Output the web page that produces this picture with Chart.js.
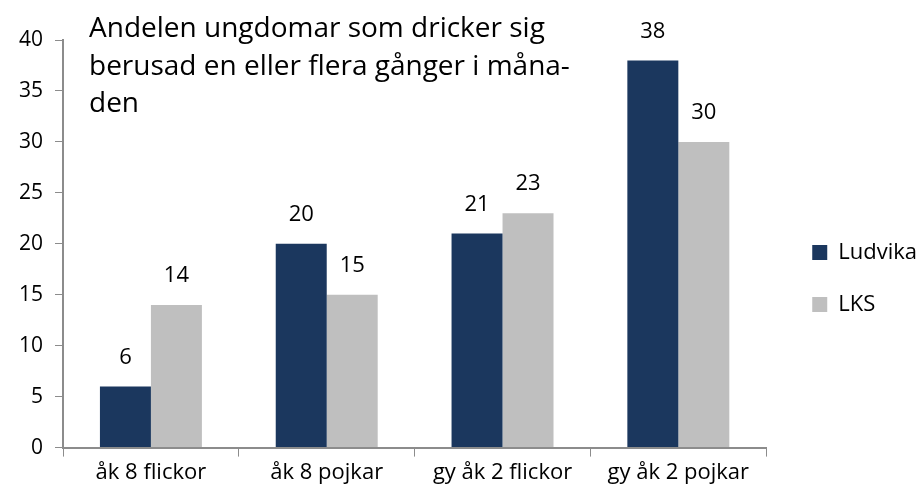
<!DOCTYPE html>
<html>
<head>
  <meta charset="utf-8">
  <title>Andelen ungdomar</title>
  <script src="https://cdn.jsdelivr.net/npm/chart.js@4.4.0/dist/chart.umd.min.js"></script>
  <style>
    body { margin: 0; background: #fff; }
    #wrap { width: 920px; height: 499px; }
  </style>
</head>
<body>
  <div id="wrap"><canvas id="chart"></canvas></div>

  <script>
    const categories = ['åk 8 flickor', 'åk 8 pojkar', 'gy åk 2 flickor', 'gy åk 2 pojkar'];
    const ludvika = [6, 20, 21, 38];
    const lks = [14, 15, 23, 30];
    const titleLines = ['Andelen ungdomar som dricker sig', 'berusad en eller flera gånger i måna-', 'den'];

    const FONT = "'Open Sans', 'Noto Sans', sans-serif";
    const axisGray = '#8c8c8c';

    // Title written inside the plot area, top left
    const titlePlugin = {
      id: 'innerTitle',
      afterDraw(chart) {
        const ctx = chart.ctx;
        ctx.save();
        ctx.font = '28px ' + FONT;
        ctx.fillStyle = '#000';
        ctx.textBaseline = 'alphabetic';
        titleLines.forEach((line, i) => {
          ctx.fillText(line, 89, 37 + i * 37.5);
        });
        ctx.restore();
      }
    };

    // Value labels over each bar
    const valuePlugin = {
      id: 'valueLabels',
      afterDatasetsDraw(chart) {
        const ctx = chart.ctx;
        ctx.save();
        ctx.font = '22px ' + FONT;
        ctx.fillStyle = '#000';
        ctx.textAlign = 'center';
        ctx.textBaseline = 'middle';
        chart.data.datasets.forEach((ds, i) => {
          chart.getDatasetMeta(i).data.forEach((bar, j) => {
            ctx.fillText(ds.data[j], bar.x, bar.y - 29);
          });
        });
        ctx.restore();
      }
    };

    // nudge the legend, the plot keeps its size
    const legendShift = {
      id: 'legendShift',
      afterLayout(chart) {
        chart.legend.left += 16;
        chart.legend.right += 16;
        chart.legend.top += 14;
        chart.legend.bottom += 14;
      }
    };

    new Chart(document.getElementById('chart'), {
      type: 'bar',
      data: {
        labels: categories,
        datasets: [
          { label: 'Ludvika', data: ludvika, backgroundColor: '#1b375e' },
          { label: 'LKS', data: lks, backgroundColor: '#bfbfbf' }
        ]
      },
      options: {
        responsive: true,
        maintainAspectRatio: false,
        animation: false,
        datasets: { bar: { barPercentage: 1, categoryPercentage: 0.58 } },
        layout: { padding: { top: 40, left: 7, right: 9, bottom: 10 } },
        plugins: {
          tooltip: { enabled: false },
          legend: {
            position: 'right',
            labels: {
              font: { family: FONT, size: 22 },
              color: '#000',
              boxWidth: 15,
              boxHeight: 15,
              padding: 30
            }
          }
        },
        scales: {
          x: {
            grid: { drawOnChartArea: false, color: axisGray, tickLength: 9, offset: true },
            border: { color: axisGray, width: 2 },
            ticks: { font: { family: FONT, size: 22 }, color: '#000', padding: 3 }
          },
          y: {
            min: 0,
            max: 40,
            grid: { drawOnChartArea: false, color: axisGray, tickLength: 8 },
            border: { color: axisGray, width: 2 },
            ticks: { stepSize: 5, font: { family: FONT, size: 21 }, color: '#000', padding: 12 }
          }
        }
      },
      plugins: [titlePlugin, valuePlugin, legendShift]
    });
  </script>
</body>
</html>
